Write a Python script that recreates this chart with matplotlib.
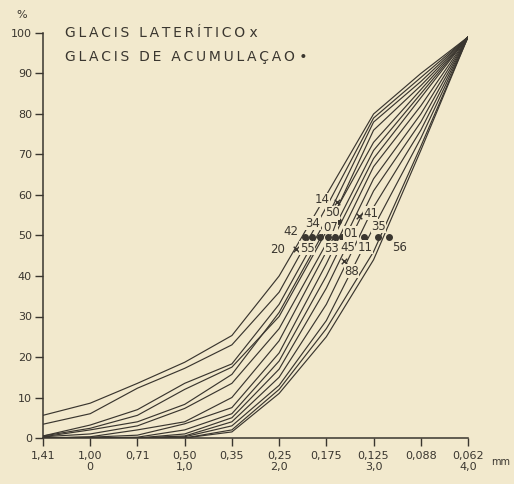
import matplotlib
matplotlib.use('Agg')
import matplotlib.pyplot as plt

# escala phi e abertura das peneiras (mm)
phi = [-0.5, 0, 0.5, 1, 1.5, 2, 2.5, 3, 3.5, 4]
mm_labels = ['1,41', '1,00', '0,71', '0,50', '0,35', '0,25', '0,175', '0,125', '0,088', '0,062']
phi_labels = ['', '0', '', '1,0', '', '2,0', '', '3,0', '', '4,0']

# curvas acumulativas (%)
curvas = [
    [5.6, 8.6, 13.5, 18.7, 25.3, 40, 60, 80, 90, 99],
    [3.4, 6.0, 12.3, 17.2, 23.0, 36, 57, 79, 89, 99],
    [0.5, 3.2, 7.0, 13.5, 18.3, 33, 54, 78, 88, 99],
    [0.5, 2.4, 5.6, 12.0, 17.5, 30, 51, 76, 87, 99],
    [0.3, 2.0, 4.0, 8.3, 15.7, 31, 52, 73, 86, 99],
    [0.3, 1.0, 3.0, 7.3, 13.5, 27, 48, 71, 85, 99],
    [0.0, 0.3, 2.0, 4.0, 10.0, 24, 46, 69, 84, 99],
    [0.0, 0.2, 0.7, 3.5, 7.5, 21, 43, 67, 82, 99],
    [0.0, 0.0, 0.2, 2.0, 6.0, 19, 40, 64, 80, 99],
    [0.0, 0.0, 0.0, 1.0, 5.0, 17, 37, 61, 78, 99],
    [0.0, 0.0, 0.0, 0.5, 4.0, 15, 33, 57, 76, 99],
    [0.0, 0.0, 0.0, 0.3, 3.0, 13, 29, 52, 74, 99],
    [0.0, 0.0, 0.0, 0.0, 2.0, 12, 27, 46, 72, 99],
    [0.0, 0.0, 0.0, 0.0, 1.5, 11, 25, 44, 71, 99],
]

# medianas das amostras
lat_nomes = ['14', '41', '20', '88']
lat_phi = [2.61, 2.85, 2.18, 2.69]
lat_pct = [58.3, 54.8, 46.7, 43.7]

acu_nomes = ['50', '42', '55', '34', '07', '53', '45', '11', '01', '35', '56']
acu_phi = [2.62, 2.27, 2.35, 2.43, 2.52, 2.59, 2.67, 2.74, 2.90, 3.05, 3.16]
acu_pct = [53.6, 49.6, 49.6, 49.6, 49.6, 49.6, 49.6, 49.6, 49.6, 49.6, 49.6]

# deslocamento dos numeros (pixels)
desloc = {
    '14': (-15, 2), '41': (11, 3), '20': (-19, -1), '88': (7, -10),
    '50': (-5, 8), '42': (-14, 6), '55': (-5, -11), '34': (-7, 14),
    '07': (2, 10), '53': (-3, -11), '45': (5, -10), '11': (16, -10),
    '01': (-13, 4), '35': (0, 11), '56': (11, -10),
}

papel = '#f2e9cd'
tinta = '#3a362f'

plt.rcParams['font.family'] = ['DejaVu Sans']


def espacado(txt):
    # letras afastadas como no letreiro original
    return '\u2009'.join(txt)


fig = plt.figure(figsize=(5.14, 4.84), dpi=100, facecolor=papel)
ax = fig.add_axes([43/514, 46/484, 425/514, 405/484])
ax.set_facecolor(papel)

for c in curvas:
    ax.plot(phi, c, color=tinta, lw=0.85, zorder=2)

ax.scatter(lat_phi, lat_pct, marker='x', s=16, color=tinta, linewidths=1.0, zorder=4)
ax.scatter(acu_phi, acu_pct, marker='o', s=16, color=tinta, zorder=4)

for nome, x, y in zip(lat_nomes + acu_nomes, lat_phi + acu_phi, lat_pct + acu_pct):
    dx, dy = desloc[nome]
    ax.annotate(nome, (x, y), xytext=(dx, dy), textcoords='offset pixels',
                ha='center', va='center', fontsize=8.5, color=tinta, zorder=5,
                bbox=dict(boxstyle='square,pad=0.03', fc=papel, ec='none'))

ax.set_xlim(-0.5, 4.0)
ax.set_ylim(0, 100)
ax.spines['top'].set_visible(False)
ax.spines['right'].set_visible(False)
ax.spines['left'].set_color(tinta)
ax.spines['bottom'].set_color(tinta)
ax.spines['left'].set_linewidth(1.1)
ax.spines['bottom'].set_linewidth(1.1)

ax.set_yticks(range(0, 101, 10))
ax.set_xticks(phi)
ax.set_xticklabels([a + '\n' + b for a, b in zip(mm_labels, phi_labels)])
ax.tick_params(axis='both', direction='out', length=6, width=1.0, color=tinta,
               labelsize=8, labelcolor=tinta)
ax.tick_params(axis='x', pad=3)
ax.tick_params(axis='y', pad=2)

fig.text(22/514, 1 - 15/484, '%', ha='center', va='center', fontsize=8, color=tinta)
fig.text(501/514, 1 - 462/484, 'mm', ha='center', va='center', fontsize=7, color=tinta)

fig.text(65/514, 1 - 33/484, espacado('GLACIS LATERÍTICO') + ' x', ha='left', va='center',
         fontsize=10, color=tinta)
fig.text(65/514, 1 - 57/484, espacado('GLACIS DE ACUMULAÇAO') + ' •', ha='left', va='center',
         fontsize=10, color=tinta)

fig.savefig('out.png', dpi=100, facecolor=papel)
